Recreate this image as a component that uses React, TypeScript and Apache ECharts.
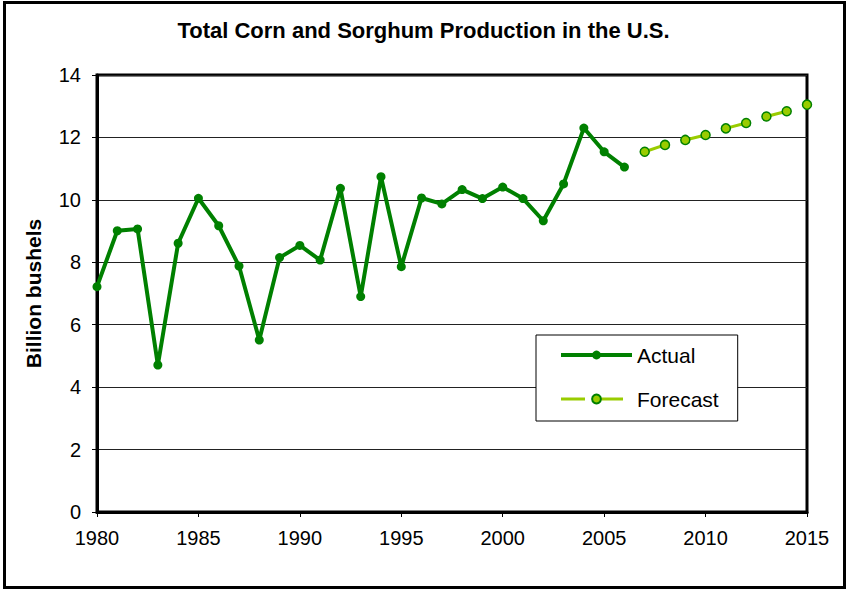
import React, { useEffect, useRef } from "react";
import * as echarts from "echarts";

const titleText = "Total Corn and Sorghum Production in the U.S.";
const yAxisName = "Billion bushels";
const actualName = "Actual";
const forecastName = "Forecast";

const actualYears = [1980, 1981, 1982, 1983, 1984, 1985, 1986, 1987, 1988, 1989, 1990, 1991, 1992, 1993, 1994, 1995, 1996, 1997, 1998, 1999, 2000, 2001, 2002, 2003, 2004, 2005, 2006];
const actualValues = [7.22, 9.01, 9.07, 4.71, 8.61, 10.05, 9.17, 7.88, 5.51, 8.15, 8.54, 8.07, 10.37, 6.9, 10.74, 7.86, 10.06, 9.87, 10.33, 10.04, 10.41, 10.04, 9.33, 10.51, 12.3, 11.54, 11.05];

const forecastYears = [2007, 2008, 2009, 2010, 2011, 2012, 2013, 2014, 2015];
const forecastValues = [11.54, 11.76, 11.92, 12.08, 12.29, 12.46, 12.67, 12.84, 13.05];

const FONT = "Liberation Sans, Arial, sans-serif";

export default function App() {
  const ref = useRef<HTMLDivElement>(null);
  useEffect(() => {
    if (!ref.current) return;
    const chart = echarts.init(ref.current, null, { renderer: "svg" });
    chart.setOption({
      animation: false,
      backgroundColor: "#fff",
      textStyle: { fontFamily: FONT },
      title: {
        text: titleText,
        left: "center",
        top: 19,
        padding: 0,
        textStyle: { fontFamily: FONT, fontSize: 22, fontWeight: "bold", color: "#000" },
      },
      graphic: [
        {
          type: "rect",
          shape: { x: 4.5, y: 2.5, width: 840, height: 585 },
          style: { fill: "none", stroke: "#000", lineWidth: 3 },
          silent: true,
          z: 100,
        },
      ],
      grid: {
        left: 97,
        top: 75,
        right: 40,
        bottom: 77,
        show: true,
        borderColor: "#000",
        borderWidth: 3,
        backgroundColor: "#fff",
      },
      legend: {
        orient: "vertical",
        left: 536,
        top: 335,
        padding: [8, 19, 10, 23],
        itemGap: 20,
        itemWidth: 71,
        itemHeight: 11,
        backgroundColor: "#fff",
        borderColor: "#000",
        borderWidth: 1,
        borderRadius: 0,
        textStyle: { fontFamily: FONT, fontSize: 21, lineHeight: 24, color: "#000" },
        data: [
          { name: actualName, lineStyle: { width: 4, color: "#008000" } },
          { name: forecastName, lineStyle: { width: 3, color: "#99CC00", type: [24, 14] } },
        ],
      },
      xAxis: {
        type: "value",
        min: 1980,
        max: 2015,
        interval: 5,
        splitLine: { show: false },
        axisLine: { show: true, lineStyle: { color: "#000", width: 3 } },
        axisTick: { show: true, length: 5, lineStyle: { color: "#000", width: 1 } },
        axisLabel: { fontFamily: FONT, fontSize: 20, color: "#000", margin: 16, formatter: (v: number) => String(v) },
      },
      yAxis: {
        type: "value",
        min: 0,
        max: 14,
        interval: 2,
        name: yAxisName,
        nameLocation: "middle",
        nameGap: 53,
        nameTextStyle: { fontFamily: FONT, fontSize: 21, fontWeight: "bold", color: "#000" },
        splitLine: { show: true, lineStyle: { color: "#222", width: 1 } },
        axisLine: { show: true, lineStyle: { color: "#000", width: 3 } },
        axisTick: { show: true, length: 5, lineStyle: { color: "#000", width: 1 } },
        axisLabel: { fontFamily: FONT, fontSize: 20, color: "#000", margin: 16 },
      },
      series: [
        {
          name: actualName,
          type: "line",
          data: actualYears.map((y, i) => [y, actualValues[i]]),
          symbol: "circle",
          symbolSize: 9,
          lineStyle: { color: "#008000", width: 4 },
          itemStyle: { color: "#008000" },
          z: 3,
        },
        {
          name: forecastName,
          type: "line",
          data: forecastYears.map((y, i) => [y, forecastValues[i]]),
          symbol: "circle",
          symbolSize: 9,
          lineStyle: { color: "#99CC00", width: 3, type: [24, 18] },
          itemStyle: { color: "#99CC00", borderColor: "#008000", borderWidth: 1.5 },
          z: 3,
        },
      ],
    });
    return () => chart.dispose();
  }, []);
  return (
    <div
      ref={ref}
      style={{ position: "fixed", left: 0, top: 0, width: 847, height: 589 }}
    />
  );
}
